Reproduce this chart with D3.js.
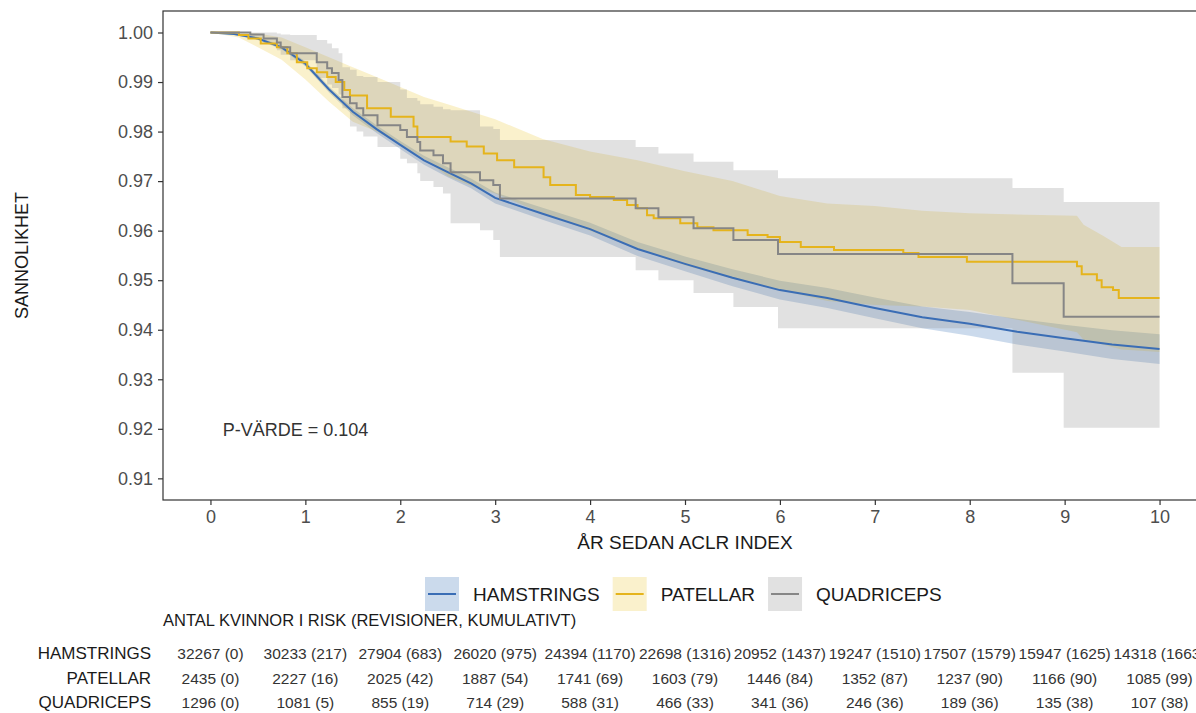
<!DOCTYPE html>
<html>
<head>
<meta charset="utf-8">
<script src="https://cdn.jsdelivr.net/npm/d3@7"></script>
<style>
body{margin:0;background:#fff;}
svg{font-family:"Liberation Sans", Arial, sans-serif;}
</style>
</head>
<body>
<svg id="chart" width="1196" height="713"></svg>
<script>
// ---- data ----
var groups=["HAMSTRINGS","PATELLAR","QUADRICEPS"];
var lineColors=["#3a6db5","#e5b41c","#868686"];
var fillColors=["#2e6db4","#e7b800","#868686"];

var hamTime=[0,0.25,0.5,0.75,1,1.25,1.5,1.75,2,2.25,2.5,2.75,3,3.5,4,4.5,5,5.5,6,6.5,7,7.5,8,8.5,9,9.5,10];
var hamSurv=[1,0.9997,0.9988,0.9970,0.9937,0.9885,0.9840,0.9805,0.9773,0.9742,0.9718,0.9695,0.9666,0.9634,0.9603,0.9563,0.9533,0.9505,0.9480,0.9464,0.9444,0.9425,0.9412,0.9396,0.9383,0.9370,0.9361];
var hamLow=[1,0.9995,0.9985,0.9966,0.9932,0.9879,0.9833,0.9797,0.9765,0.9733,0.9708,0.9685,0.9655,0.9622,0.9590,0.9549,0.9518,0.9488,0.9461,0.9444,0.9423,0.9403,0.9388,0.9370,0.9356,0.9341,0.9331];
var hamHigh=[1,0.9999,0.9991,0.9974,0.9942,0.9891,0.9847,0.9813,0.9781,0.9751,0.9728,0.9705,0.9677,0.9646,0.9616,0.9577,0.9548,0.9522,0.9499,0.9484,0.9465,0.9447,0.9436,0.9422,0.9410,0.9399,0.9391];

var patTime=[0,0.3,0.4,0.53,0.7,0.81,0.91,1.02,1.12,1.23,1.32,1.41,1.47,1.65,1.9,2.14,2.18,2.53,2.7,2.88,3.02,3.2,3.51,3.58,3.85,4.0,4.25,4.39,4.5,4.6,4.67,4.95,5.13,5.3,5.66,5.87,6.0,6.22,6.57,7.3,7.46,7.97,9.13,9.18,9.34,9.39,9.51,9.57,10];
var patSurv=[1,0.9995,0.9988,0.9978,0.997,0.9958,0.994,0.9928,0.992,0.991,0.990,0.9884,0.9873,0.9847,0.983,0.981,0.9789,0.978,0.977,0.9756,0.9742,0.9728,0.9708,0.9692,0.9672,0.9668,0.9662,0.9652,0.9645,0.9631,0.9625,0.9615,0.9607,0.9601,0.9591,0.9587,0.9577,0.9567,0.9561,0.9555,0.9547,0.9537,0.9528,0.9512,0.95,0.9486,0.948,0.9464,0.9464];
var patCiTime=[0,0.3,0.5,0.75,1,1.25,1.5,1.75,2,2.25,2.5,2.75,3,3.5,4,4.5,5,5.5,6,6.5,7,7.5,8,9.13,9.2,9.4,9.6,10];
var patLow=[1,0.999,0.997,0.9945,0.9905,0.986,0.982,0.980,0.9775,0.9745,0.971,0.969,0.9675,0.9635,0.9600,0.9563,0.9530,0.9503,0.948,0.9458,0.945,0.9447,0.944,0.9395,0.938,0.937,0.936,0.9355];
var patHigh=[1,1,0.9998,0.999,0.997,0.995,0.993,0.991,0.989,0.987,0.9855,0.984,0.9825,0.9785,0.976,0.9742,0.972,0.970,0.967,0.9655,0.965,0.964,0.9635,0.963,0.9612,0.959,0.9567,0.9567];

var quadTime=[0,0.42,0.56,0.7,0.74,0.84,1.12,1.23,1.28,1.35,1.39,1.47,1.54,1.61,1.76,2.0,2.07,2.18,2.21,2.35,2.45,2.53,2.84,2.98,3.05,4.48,4.72,5.09,5.51,5.98,8.45,8.99,10];
var quadSurv=[1,0.9996,0.9988,0.998,0.997,0.9958,0.994,0.9928,0.9918,0.9904,0.987,0.9857,0.9847,0.9833,0.9813,0.9803,0.9789,0.9779,0.9762,0.9752,0.9736,0.9718,0.9702,0.9692,0.9665,0.9645,0.9627,0.9605,0.9581,0.9553,0.9494,0.9426,0.9426];
var quadLow=[1,0.9988,0.9978,0.9964,0.9955,0.9944,0.9908,0.9895,0.9888,0.9875,0.9847,0.981,0.980,0.979,0.9769,0.9745,0.9736,0.9716,0.970,0.9688,0.9675,0.9615,0.9601,0.9581,0.9547,0.952,0.95,0.9474,0.9446,0.9403,0.9313,0.9202,0.9202];
var quadHigh=[1,1,1,0.9998,0.9996,0.9995,0.9985,0.9978,0.9968,0.9958,0.993,0.9925,0.9912,0.991,0.990,0.9885,0.9868,0.9862,0.9855,0.985,0.9845,0.9843,0.981,0.9805,0.9783,0.9769,0.9756,0.9739,0.9722,0.9706,0.9686,0.9658,0.9658];

var yTicks=[0.91,0.92,0.93,0.94,0.95,0.96,0.97,0.98,0.99,1.00];
var xTicks=[0,1,2,3,4,5,6,7,8,9,10];
var pValue="P-VÄRDE = 0.104";

var riskYears=[0,1,2,3,4,5,6,7,8,9,10];
var hamAtRisk=[32267,30233,27904,26020,24394,22698,20952,19247,17507,15947,14318];
var hamEvents=[0,217,683,975,1170,1316,1437,1510,1579,1625,1663];
var patAtRisk=[2435,2227,2025,1887,1741,1603,1446,1352,1237,1166,1085];
var patEvents=[0,16,42,54,69,79,84,87,90,90,99];
var quadAtRisk=[1296,1081,855,714,588,466,341,246,189,135,107];
var quadEvents=[0,5,19,29,31,33,36,36,36,38,38];

// ---- build series ----
function pts(t,v){return t.map(function(d,i){return {t:d,v:v[i]};});}
function band(t,lo,hi){return t.map(function(d,i){return {t:d,lo:lo[i],hi:hi[i]};});}

var series=[
  {id:groups[0],line:pts(hamTime,hamSurv),ci:band(hamTime,hamLow,hamHigh),lineCurve:d3.curveLinear,ciCurve:d3.curveLinear,op:0.25},
  {id:groups[1],line:pts(patTime,patSurv),ci:band(patCiTime,patLow,patHigh),lineCurve:d3.curveStepAfter,ciCurve:d3.curveLinear,op:0.2},
  {id:groups[2],line:pts(quadTime,quadSurv),ci:band(quadTime,quadLow,quadHigh),lineCurve:d3.curveStepAfter,ciCurve:d3.curveStepAfter,op:0.25}
];

var svg=d3.select("#chart");
var pLeft=163, pTop=11, pRight=1207, pBottom=500;

var xScale=d3.scaleLinear().domain([-0.5,10.5]).range([pLeft,pRight]);
var yScale=d3.scaleLinear().domain([0.90563,1.00434]).range([pBottom,pTop]);

// ribbons
var area=d3.area()
  .x(function(d){return xScale(d.t);})
  .y0(function(d){return yScale(d.lo);})
  .y1(function(d){return yScale(d.hi);});

svg.append("g").selectAll("path")
  .data(series)
  .enter()
  .append("path")
  .attr("d",function(d){return area.curve(d.ciCurve)(d.ci);})
  .attr("fill",function(d,i){return fillColors[i];})
  .attr("fill-opacity",function(d){return d.op;})
  .attr("stroke","none");

// survival lines
var line=d3.line()
  .x(function(d){return xScale(d.t);})
  .y(function(d){return yScale(d.v);});

svg.append("g").selectAll("path")
  .data(series)
  .enter()
  .append("path")
  .attr("d",function(d){return line.curve(d.lineCurve)(d.line);})
  .attr("fill","none")
  .attr("stroke",function(d,i){return lineColors[i];})
  .attr("stroke-width",2);

// panel border
svg.append("rect")
  .attr("x",pLeft).attr("y",pTop)
  .attr("width",pRight-pLeft).attr("height",pBottom-pTop)
  .attr("fill","none")
  .attr("stroke","#333")
  .attr("stroke-width",1.2);

// axes
var yAxis=d3.axisLeft(yScale).tickValues(yTicks).tickFormat(d3.format(".2f")).tickSize(5).tickPadding(5);
var xAxis=d3.axisBottom(xScale).tickValues(xTicks).tickFormat(d3.format("d")).tickSize(5).tickPadding(5);

var gy=svg.append("g").attr("transform","translate("+pLeft+",0)").call(yAxis);
var gx=svg.append("g").attr("transform","translate(0,"+pBottom+")").call(xAxis);
[gx,gy].forEach(function(g){
  g.select(".domain").remove();
  g.selectAll(".tick line").attr("stroke","#333").attr("stroke-width",1.2);
  g.selectAll(".tick text").attr("fill","#4d4d4d").style("font-size","18px").style("font-family","Liberation Sans, Arial, sans-serif");
});

// axis titles
svg.append("text")
  .attr("x",(xScale(0)+xScale(10))/2).attr("y",549)
  .attr("text-anchor","middle")
  .attr("fill","#1a1a1a").style("font-size","19px")
  .text("ÅR SEDAN ACLR INDEX");

svg.append("text")
  .attr("transform","translate(28,"+((pTop+pBottom)/2)+") rotate(-90)")
  .attr("text-anchor","middle")
  .attr("fill","#1a1a1a").style("font-size","18px")
  .text("SANNOLIKHET");

// p-value
svg.append("text")
  .attr("x",xScale(0.13)).attr("y",yScale(0.92)+7)
  .attr("fill","#333").style("font-size","18px")
  .text(pValue);

// legend
var lg=svg.append("g");
var cx=425;
groups.forEach(function(g,i){
  lg.append("rect").attr("x",cx).attr("y",577).attr("width",34).attr("height",34)
    .attr("fill",fillColors[i]).attr("fill-opacity",series[i].op);
  lg.append("line").attr("x1",cx+3).attr("x2",cx+31).attr("y1",594).attr("y2",594)
    .attr("stroke",lineColors[i]).attr("stroke-width",2);
  var t=lg.append("text").attr("x",cx+48).attr("y",601)
    .attr("fill","#1a1a1a").style("font-size","19px").text(g);
  cx=cx+48+t.node().getComputedTextLength()+13;
});

// risk table
svg.append("text")
  .attr("x",pLeft).attr("y",626)
  .attr("fill","#1a1a1a").style("font-size","16.5px")
  .text("ANTAL KVINNOR I RISK (REVISIONER, KUMULATIVT)");

var rows=[
  {id:groups[0],n:hamAtRisk,e:hamEvents},
  {id:groups[1],n:patAtRisk,e:patEvents},
  {id:groups[2],n:quadAtRisk,e:quadEvents}
];
var rowY=[659,684,708];

rows.forEach(function(r,i){
  svg.append("text")
    .attr("x",151).attr("y",rowY[i])
    .attr("text-anchor","end")
    .attr("fill","#1a1a1a").style("font-size","17px")
    .text(r.id);
  svg.append("g").selectAll("text")
    .data(riskYears)
    .enter()
    .append("text")
    .attr("x",function(d){return xScale(d);})
    .attr("y",rowY[i])
    .attr("text-anchor","middle")
    .attr("fill","#333").style("font-size","15.5px")
    .text(function(d,j){return r.n[j]+" ("+r.e[j]+")";});
});
</script>
</body>
</html>
